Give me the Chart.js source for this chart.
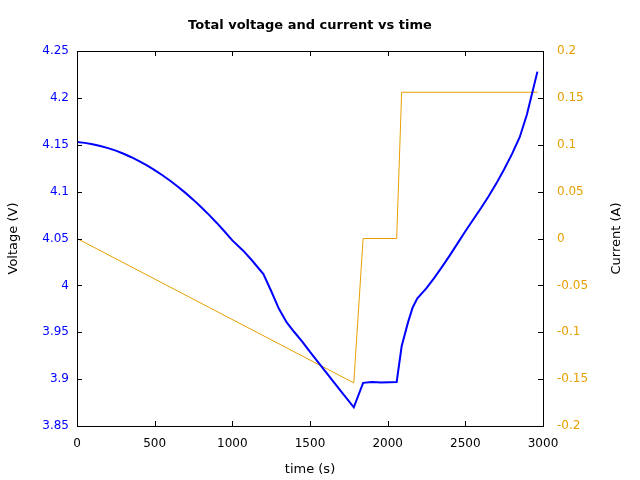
<!DOCTYPE html>
<html>
<head>
<meta charset="utf-8">
<title>Total voltage and current vs time</title>
<script src="https://cdn.jsdelivr.net/npm/chart.js@4/dist/chart.umd.min.js"></script>
<style>
    html, body { margin: 0; padding: 0; background: #fff; }
    #chart { display: block; }
</style>
</head>
<body>
<canvas id="chart" width="640" height="480"></canvas>
<script>
// Voltage trace (time in s, voltage in V)
const voltageTime = [0, 50, 100, 150, 200, 250, 300, 350, 400, 450, 500, 550, 600, 650, 700,
    750, 800, 850, 900, 950, 1000, 1070, 1130, 1200, 1250, 1300, 1350, 1400, 1450, 1500, 1600,
    1700, 1782, 1842, 1900, 1960, 2058, 2090, 2130, 2160, 2190, 2250, 2300, 2350, 2400, 2450,
    2500, 2550, 2600, 2650, 2700, 2750, 2800, 2850, 2896, 2930, 2964];
const voltage = [4.1530, 4.1520, 4.1506, 4.1487, 4.1464, 4.1437, 4.1404, 4.1367, 4.1326, 4.1280,
    4.1230, 4.1175, 4.1116, 4.1052, 4.0984, 4.0912, 4.0834, 4.0752, 4.0666, 4.0575, 4.0480,
    4.0370, 4.0260, 4.0120, 3.9940, 3.9750, 3.9605, 3.9500, 3.9400, 3.9290, 3.9080, 3.8870,
    3.8700, 3.8960, 3.8968, 3.8965, 3.8970, 3.9350, 3.9600, 3.9760, 3.9860, 3.9970, 4.0080,
    4.0198, 4.0320, 4.0448, 4.0578, 4.0700, 4.0822, 4.0950, 4.1088, 4.1238, 4.1400, 4.1580,
    4.1820, 4.2050, 4.2280];

// Current trace (time in s, current in A)
const currentTime = [0, 1782, 1842, 2058, 2090, 2964];
const current = [0.0, -0.154, 0.0, 0.0, 0.156, 0.156];

// Tick values
const timeTicks = [0, 500, 1000, 1500, 2000, 2500, 3000];
const voltTicks = [3.85, 3.9, 3.95, 4, 4.05, 4.1, 4.15, 4.2, 4.25];
const voltLabels = ['3.85', '3.9', '3.95', '4', '4.05', '4.1', '4.15', '4.2', '4.25'];
const currTicks = [-0.2, -0.15, -0.1, -0.05, 0, 0.05, 0.1, 0.15, 0.2];
const currLabels = ['-0.2', '-0.15', '-0.1', '-0.05', '0', '0.05', '0.1', '0.15', '0.2'];

const BLUE = '#0000ff';
const ORANGE = 'rgb(230, 159, 0)';
const FONT = 'DejaVu Sans';

function fixedTicks(values) {
    return function(scale) {
        scale.ticks = values.map(v => ({ value: v }));
    };
}

// Frame, inward ticks, title and right axis label (gnuplot look)
const framePlugin = {
    id: 'framePlugin',
    afterDatasetsDraw(chart) {
        const ctx = chart.ctx;
        const area = chart.chartArea;
        const sx = chart.scales.x, sy = chart.scales.y, sy1 = chart.scales.y1;
        const len = 5;
        ctx.save();
        ctx.strokeStyle = '#000';
        ctx.lineWidth = 1;
        ctx.beginPath();
        timeTicks.forEach(v => {
            const px = Math.round(sx.getPixelForValue(v)) + 0.5;
            ctx.moveTo(px, area.bottom); ctx.lineTo(px, area.bottom - len);
            ctx.moveTo(px, area.top); ctx.lineTo(px, area.top + len);
        });
        voltTicks.forEach(v => {
            const py = Math.round(sy.getPixelForValue(v)) + 0.5;
            ctx.moveTo(area.left, py); ctx.lineTo(area.left + len, py);
        });
        currTicks.forEach(v => {
            const py = Math.round(sy1.getPixelForValue(v)) + 0.5;
            ctx.moveTo(area.right, py); ctx.lineTo(area.right - len, py);
        });
        ctx.stroke();
        ctx.strokeRect(Math.round(area.left) + 0.5, Math.round(area.top) + 0.5,
            Math.round(area.right - area.left), Math.round(area.bottom - area.top));

        // title, centred over the plot area
        ctx.fillStyle = '#000';
        ctx.font = 'bold 13px "' + FONT + '"';
        ctx.textAlign = 'center';
        ctx.textBaseline = 'middle';
        ctx.fillText('Total voltage and current vs time', (area.left + area.right) / 2, 26);

        // right axis label, reading bottom to top
        ctx.font = '13px "' + FONT + '"';
        ctx.translate(617, (area.top + area.bottom) / 2);
        ctx.rotate(-Math.PI / 2);
        ctx.fillText('Current (A)', 0, 0);
        ctx.restore();
    }
};

const ctx = document.getElementById('chart').getContext('2d');
new Chart(ctx, {
    type: 'line',
    data: {
        datasets: [
            {
                label: 'Voltage',
                data: voltageTime.map((t, i) => ({ x: t, y: voltage[i] })),
                borderColor: BLUE,
                borderWidth: 2,
                pointRadius: 0,
                tension: 0,
                yAxisID: 'y'
            },
            {
                label: 'Current',
                data: currentTime.map((t, i) => ({ x: t, y: current[i] })),
                borderColor: ORANGE,
                borderWidth: 1,
                pointRadius: 0,
                tension: 0,
                yAxisID: 'y1'
            }
        ]
    },
    options: {
        responsive: false,
        animation: false,
        layout: { padding: { top: 51, left: 0, right: 0, bottom: 0 } },
        font: { family: FONT, size: 12 },
        scales: {
            x: {
                type: 'linear',
                min: 0,
                max: 3000,
                afterBuildTicks: fixedTicks(timeTicks),
                afterFit: function(scale) { scale.height = 54; },
                grid: { display: false, drawTicks: false },
                border: { display: false },
                ticks: {
                    padding: 11,
                    maxRotation: 0,
                    color: '#000',
                    font: { family: FONT, size: 12 },
                    callback: v => String(v)
                },
                title: {
                    display: true,
                    text: 'time (s)',
                    color: '#000',
                    font: { family: FONT, size: 13 },
                    padding: { top: 0, bottom: 3 }
                }
            },
            y: {
                position: 'left',
                min: 3.85,
                max: 4.25,
                afterBuildTicks: fixedTicks(voltTicks),
                afterFit: function(scale) { scale.width = 77; },
                grid: { display: false, drawTicks: false },
                border: { display: false },
                ticks: {
                    padding: 8,
                    color: BLUE,
                    font: { family: FONT, size: 12 },
                    callback: (v, i) => voltLabels[i]
                },
                title: {
                    display: true,
                    text: 'Voltage (V)',
                    color: '#000',
                    font: { family: FONT, size: 13 },
                    padding: { top: 6, bottom: 0 }
                }
            },
            y1: {
                position: 'right',
                min: -0.2,
                max: 0.2,
                afterBuildTicks: fixedTicks(currTicks),
                afterFit: function(scale) { scale.width = 97; },
                grid: { display: false, drawTicks: false },
                border: { display: false },
                ticks: {
                    padding: 14,
                    color: ORANGE,
                    font: { family: FONT, size: 12 },
                    callback: (v, i) => currLabels[i]
                }
            }
        },
        plugins: {
            legend: { display: false },
            title: { display: false },
            tooltip: { enabled: false }
        }
    },
    plugins: [framePlugin]
});
</script>
</body>
</html>
